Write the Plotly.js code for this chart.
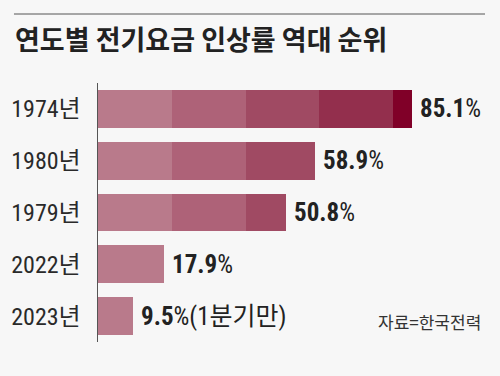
<!DOCTYPE html>
<html><head><meta charset="utf-8">
<script src="https://cdn.plot.ly/plotly-3.0.1.min.js"></script>
<style>html,body{margin:0;padding:0;background:#f7f7f7;}#c{width:500px;height:376px;}</style>
</head><body><div id="c"></div>
<script>
const years = ["1974년", "1980년", "1979년", "2022년", "2023년"];
const rates = [85.1, 58.9, 50.8, 17.9, 9.5];
const suffixes = ["%", "%", "%", "%", "%(1분기만)"];
const bandColors = ["#b97a8b", "#ae6278", "#a04a63", "#932f4d", "#800028"];
const bandSize = 20;
const titleText = "연도별 전기요금 인상률 역대 순위";
const sourceText = "자료=한국전력";

const narrow = "Liberation Sans Narrow, 'Arial Narrow', 'Roboto Condensed', 'Noto Sans CJK KR', sans-serif";
const traces = bandColors.map((col, k) => ({
  type: "bar", orientation: "h",
  y: years,
  x: rates.map(v => { const s = Math.min(Math.max(v - k * bandSize, 0), bandSize); return s > 0 ? s : null; }),
  marker: {color: col, line: {width: 0}},
  hoverinfo: "none", showlegend: false
}));

const annotations = rates.map((v, i) => ({
  x: v, y: years[i], xref: "x", yref: "y", xanchor: "left", yanchor: "middle",
  xshift: 6, yshift: 0, showarrow: false,
  text: "<b>" + v.toFixed(1) + "</b>" + suffixes[i],
  font: {family: narrow, size: 25, color: "#222"}
}));
annotations.push({
  x: 0.958, y: 0.081, xref: "paper", yref: "paper", xanchor: "right", yanchor: "middle",
  showarrow: false, text: sourceText,
  font: {family: "'Noto Sans CJK KR', sans-serif", size: 17, color: "#333"}
});

const layout = {
  width: 500, height: 376,
  paper_bgcolor: "#f7f7f7", plot_bgcolor: "#f7f7f7",
  margin: {l: 98, r: 0, t: 83, b: 34},
  barmode: "stack", bargap: 0.273,
  title: {text: "<b>" + titleText + "</b>", xref: "container", yref: "container",
    x: 0.03, xanchor: "left", y: 0.891, yanchor: "middle",
    font: {family: "'Noto Sans CJK KR', sans-serif", size: 27, color: "#222"}},
  xaxis: {range: [0, 108.9], visible: false, fixedrange: true},
  yaxis: {autorange: "reversed", showline: true, linecolor: "#555", linewidth: 1.5,
    showgrid: false, zeroline: false, ticks: "", ticklabelstandoff: 11,
    tickfont: {family: narrow, size: 24, color: "#2a2a2a"}, fixedrange: true},
  shapes: [{type: "line", xref: "paper", yref: "paper", x0: -0.209, x1: 0.9627, y0: 1.2664, y1: 1.2664,
    line: {color: "#555", width: 1}}],
  annotations: annotations
};
Plotly.newPlot("c", traces, layout, {displayModeBar: false, staticPlot: true});
</script></body></html>
